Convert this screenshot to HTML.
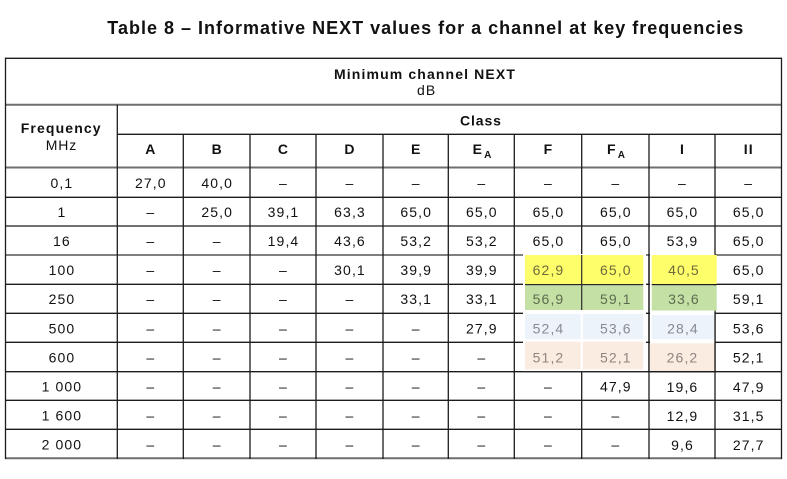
<!DOCTYPE html>
<html>
<head>
<meta charset="utf-8">
<style>
  html, body { margin: 0; padding: 0; background: #fff; }
  svg { display: block; }
  text { font-family: "Liberation Sans", Arial, sans-serif; }
  .t { font-size: 18px; font-weight: bold; fill: #111; }
  .h { font-size: 14px; font-weight: bold; fill: #111; letter-spacing: 1.1px; }
  .r { font-size: 14px; fill: #111; letter-spacing: 1.1px; }
  .d { font-size: 14px; fill: #111; letter-spacing: 1.1px; text-anchor: middle; }
  .hc { font-size: 14px; font-weight: bold; fill: #111; letter-spacing: 1.1px; text-anchor: middle; }
  .sub { font-size: 10px; font-weight: bold; letter-spacing: 0; }
  .cy { fill: #6d6b3c; }
  .cg { fill: #5d6c4f; }
  .cb { fill: #878a90; }
  .cp { fill: #8e8580; }
</style>
</head>
<body>
<svg width="787" height="479" viewBox="0 0 787 479" xmlns="http://www.w3.org/2000/svg">
  <rect width="787" height="479" fill="#fff"/>

  <!-- Title -->
  <text class="t" x="107.3" y="34" textLength="636" lengthAdjust="spacing">Table 8 – Informative NEXT values for a channel at key frequencies</text>

  <!-- Grid: horizontal lines -->
  <g stroke="#1c1c1c" stroke-width="1.3" fill="none">
    <line x1="5" y1="58.3" x2="782" y2="58.3"/>
    <line x1="117.3" y1="134.3" x2="782" y2="134.3"/>
    <line x1="5" y1="197.3" x2="782" y2="197.3"/>
    <line x1="5" y1="226" x2="782" y2="226"/>
    <line x1="5" y1="284.3" x2="782" y2="284.3"/>
    <line x1="5" y1="313.3" x2="782" y2="313.3"/>
    <line x1="5" y1="342.3" x2="782" y2="342.3"/>
    <line x1="5" y1="371.7" x2="782" y2="371.7"/>
    <line x1="5" y1="400.3" x2="782" y2="400.3"/>
    <line x1="5" y1="429.3" x2="782" y2="429.3"/>
  </g>
  <g stroke="#6f6f6f" stroke-width="2" fill="none">
    <line x1="5" y1="104.8" x2="782" y2="104.8"/>
    <line x1="5" y1="167.5" x2="782" y2="167.5"/>
    <line x1="5" y1="458.3" x2="782" y2="458.3"/>
  </g>
  <g stroke="#555" stroke-width="1.6" fill="none">
    <line x1="5" y1="255" x2="782" y2="255"/>
  </g>

  <!-- Grid: vertical lines -->
  <g stroke="#1c1c1c" stroke-width="1.3" fill="none">
    <line x1="5.5" y1="57.7" x2="5.5" y2="459"/>
    <line x1="781.5" y1="57.7" x2="781.5" y2="459"/>
    <line x1="117.3" y1="104.8" x2="117.3" y2="459"/>
    <line x1="183.3" y1="134.3" x2="183.3" y2="459"/>
    <line x1="250" y1="134.3" x2="250" y2="459"/>
    <line x1="316" y1="134.3" x2="316" y2="459"/>
    <line x1="383" y1="134.3" x2="383" y2="459"/>
    <line x1="448.3" y1="134.3" x2="448.3" y2="459"/>
    <line x1="514.3" y1="134.3" x2="514.3" y2="459"/>
    <line x1="581.7" y1="134.3" x2="581.7" y2="459"/>
    <line x1="649" y1="134.3" x2="649" y2="459"/>
    <line x1="715" y1="134.3" x2="715" y2="459"/>
  </g>

  <!-- Highlight blocks: F / FA -->
  <rect x="523" y="254" width="123" height="117" fill="#fff"/>
  <rect x="525" y="255" width="118.3" height="29" fill="#fefe6a"/>
  <rect x="525" y="285.5" width="118.3" height="24.5" fill="#c5e0a5"/>
  <rect x="525" y="314" width="118.3" height="25.3" fill="#edf3fb"/>
  <rect x="525" y="341.7" width="118.3" height="27.6" fill="#fbece1"/>
  <g stroke="#2a2a2a" stroke-width="1.2">
    <line x1="581.7" y1="255" x2="581.7" y2="310"/>
    <line x1="525" y1="284.6" x2="643.3" y2="284.6"/>
    <line x1="523" y1="371.7" x2="646" y2="371.7"/>
  </g>
  <line x1="581.7" y1="314" x2="581.7" y2="369.3" stroke="#fff" stroke-width="2"/>

  <!-- Highlight blocks: I -->
  <rect x="650" y="254" width="64.5" height="117" fill="#fff"/>
  <rect x="651.7" y="255" width="65" height="29.3" fill="#fefe6a"/>
  <rect x="651.7" y="285.5" width="65" height="25" fill="#c5e0a5"/>
  <rect x="651.7" y="315" width="62.3" height="24.3" fill="#edf3fb"/>
  <rect x="649.3" y="343.3" width="65.7" height="27.7" fill="#fbece1"/>
  <g stroke="#1c1c1c" stroke-width="1.3">
    <line x1="649" y1="254" x2="649" y2="372"/>
    <line x1="715" y1="312" x2="715" y2="372"/>
    <line x1="651.7" y1="284.6" x2="716.7" y2="284.6"/>
    <line x1="649" y1="371.7" x2="716" y2="371.7"/>
  </g>

  <!-- Header text -->
  <text class="h" x="334" y="79" textLength="182" lengthAdjust="spacing">Minimum channel NEXT</text>
  <text class="r" x="417" y="95">dB</text>
  <text class="h" x="460" y="125.5" textLength="42" lengthAdjust="spacing">Class</text>
  <text class="h" x="20.7" y="133" textLength="81" lengthAdjust="spacing">Frequency</text>
  <text class="r" x="45.7" y="150" textLength="31.6" lengthAdjust="spacing">MHz</text>

  <!-- Column headers -->
  <text class="hc" x="150.8" y="154">A</text>
  <text class="hc" x="217.2" y="154">B</text>
  <text class="hc" x="283.5" y="154">C</text>
  <text class="hc" x="350" y="154">D</text>
  <text class="hc" x="416.2" y="154">E</text>
  <text class="hc" x="482" y="154">E<tspan class="sub" dx="1" dy="4">A</tspan></text>
  <text class="hc" x="548.5" y="154">F</text>
  <text class="hc" x="616" y="154">F<tspan class="sub" dx="1" dy="4">A</tspan></text>
  <text class="hc" x="682.5" y="154">I</text>
  <text class="hc" x="748.7" y="154">II</text>

  <!-- Data rows -->
  <!-- columns centers: F 61.9, A 150.8, B 217.2, C 283.5, D 350, E 416.2, EA 481.8, F 548.5, FA 615.8, I 682.5, II 748.7 -->
  <g>
    <!-- 0,1 -->
    <text class="d" x="61.9" y="188">0,1</text>
    <text class="d" x="150.8" y="188">27,0</text>
    <text class="d" x="217.2" y="188">40,0</text>
    <text class="d" x="283.5" y="188">–</text>
    <text class="d" x="350" y="188">–</text>
    <text class="d" x="416.2" y="188">–</text>
    <text class="d" x="481.8" y="188">–</text>
    <text class="d" x="548.5" y="188">–</text>
    <text class="d" x="615.8" y="188">–</text>
    <text class="d" x="682.5" y="188">–</text>
    <text class="d" x="748.7" y="188">–</text>

    <!-- 1 -->
    <text class="d" x="61.9" y="217">1</text>
    <text class="d" x="150.8" y="217">–</text>
    <text class="d" x="217.2" y="217">25,0</text>
    <text class="d" x="283.5" y="217">39,1</text>
    <text class="d" x="350" y="217">63,3</text>
    <text class="d" x="416.2" y="217">65,0</text>
    <text class="d" x="481.8" y="217">65,0</text>
    <text class="d" x="548.5" y="217">65,0</text>
    <text class="d" x="615.8" y="217">65,0</text>
    <text class="d" x="682.5" y="217">65,0</text>
    <text class="d" x="748.7" y="217">65,0</text>

    <!-- 16 -->
    <text class="d" x="61.9" y="246">16</text>
    <text class="d" x="150.8" y="246">–</text>
    <text class="d" x="217.2" y="246">–</text>
    <text class="d" x="283.5" y="246">19,4</text>
    <text class="d" x="350" y="246">43,6</text>
    <text class="d" x="416.2" y="246">53,2</text>
    <text class="d" x="481.8" y="246">53,2</text>
    <text class="d" x="548.5" y="246">65,0</text>
    <text class="d" x="615.8" y="246">65,0</text>
    <text class="d" x="682.5" y="246">53,9</text>
    <text class="d" x="748.7" y="246">65,0</text>

    <!-- 100 -->
    <text class="d" x="61.9" y="275">100</text>
    <text class="d" x="150.8" y="275">–</text>
    <text class="d" x="217.2" y="275">–</text>
    <text class="d" x="283.5" y="275">–</text>
    <text class="d" x="350" y="275">30,1</text>
    <text class="d" x="416.2" y="275">39,9</text>
    <text class="d" x="481.8" y="275">39,9</text>
    <text class="d cy" x="548.5" y="275">62,9</text>
    <text class="d cy" x="615.8" y="275">65,0</text>
    <text class="d cy" x="684" y="275">40,5</text>
    <text class="d" x="748.7" y="275">65,0</text>

    <!-- 250 -->
    <text class="d" x="61.9" y="304">250</text>
    <text class="d" x="150.8" y="304">–</text>
    <text class="d" x="217.2" y="304">–</text>
    <text class="d" x="283.5" y="304">–</text>
    <text class="d" x="350" y="304">–</text>
    <text class="d" x="416.2" y="304">33,1</text>
    <text class="d" x="481.8" y="304">33,1</text>
    <text class="d cg" x="548.5" y="304">56,9</text>
    <text class="d cg" x="615.8" y="304">59,1</text>
    <text class="d cg" x="684" y="304">33,6</text>
    <text class="d" x="748.7" y="304">59,1</text>

    <!-- 500 -->
    <text class="d" x="61.9" y="333.3">500</text>
    <text class="d" x="150.8" y="333.3">–</text>
    <text class="d" x="217.2" y="333.3">–</text>
    <text class="d" x="283.5" y="333.3">–</text>
    <text class="d" x="350" y="333.3">–</text>
    <text class="d" x="416.2" y="333.3">–</text>
    <text class="d" x="481.8" y="333.3">27,9</text>
    <text class="d cb" x="548.5" y="333.3">52,4</text>
    <text class="d cb" x="615.8" y="333.3">53,6</text>
    <text class="d cb" x="683" y="333.3">28,4</text>
    <text class="d" x="748.7" y="333.3">53,6</text>

    <!-- 600 -->
    <text class="d" x="61.9" y="362.3">600</text>
    <text class="d" x="150.8" y="362.3">–</text>
    <text class="d" x="217.2" y="362.3">–</text>
    <text class="d" x="283.5" y="362.3">–</text>
    <text class="d" x="350" y="362.3">–</text>
    <text class="d" x="416.2" y="362.3">–</text>
    <text class="d" x="481.8" y="362.3">–</text>
    <text class="d cp" x="548.5" y="362.3">51,2</text>
    <text class="d cp" x="615.8" y="362.3">52,1</text>
    <text class="d cp" x="682.5" y="362.3">26,2</text>
    <text class="d" x="748.7" y="362.3">52,1</text>

    <!-- 1 000 -->
    <text class="d" x="61.9" y="391.3">1 000</text>
    <text class="d" x="150.8" y="391.3">–</text>
    <text class="d" x="217.2" y="391.3">–</text>
    <text class="d" x="283.5" y="391.3">–</text>
    <text class="d" x="350" y="391.3">–</text>
    <text class="d" x="416.2" y="391.3">–</text>
    <text class="d" x="481.8" y="391.3">–</text>
    <text class="d" x="548.5" y="391.3">–</text>
    <text class="d" x="615.8" y="391.3">47,9</text>
    <text class="d" x="682.5" y="392">19,6</text>
    <text class="d" x="748.7" y="392">47,9</text>

    <!-- 1 600 -->
    <text class="d" x="61.9" y="420.3">1 600</text>
    <text class="d" x="150.8" y="420.3">–</text>
    <text class="d" x="217.2" y="420.3">–</text>
    <text class="d" x="283.5" y="420.3">–</text>
    <text class="d" x="350" y="420.3">–</text>
    <text class="d" x="416.2" y="420.3">–</text>
    <text class="d" x="481.8" y="420.3">–</text>
    <text class="d" x="548.5" y="420.3">–</text>
    <text class="d" x="615.8" y="420.3">–</text>
    <text class="d" x="682.5" y="421">12,9</text>
    <text class="d" x="748.7" y="421">31,5</text>

    <!-- 2 000 -->
    <text class="d" x="61.9" y="449.3">2 000</text>
    <text class="d" x="150.8" y="449.3">–</text>
    <text class="d" x="217.2" y="449.3">–</text>
    <text class="d" x="283.5" y="449.3">–</text>
    <text class="d" x="350" y="449.3">–</text>
    <text class="d" x="416.2" y="449.3">–</text>
    <text class="d" x="481.8" y="449.3">–</text>
    <text class="d" x="548.5" y="449.3">–</text>
    <text class="d" x="615.8" y="449.3">–</text>
    <text class="d" x="682.5" y="450">9,6</text>
    <text class="d" x="748.7" y="450">27,7</text>
  </g>
</svg>
</body>
</html>
